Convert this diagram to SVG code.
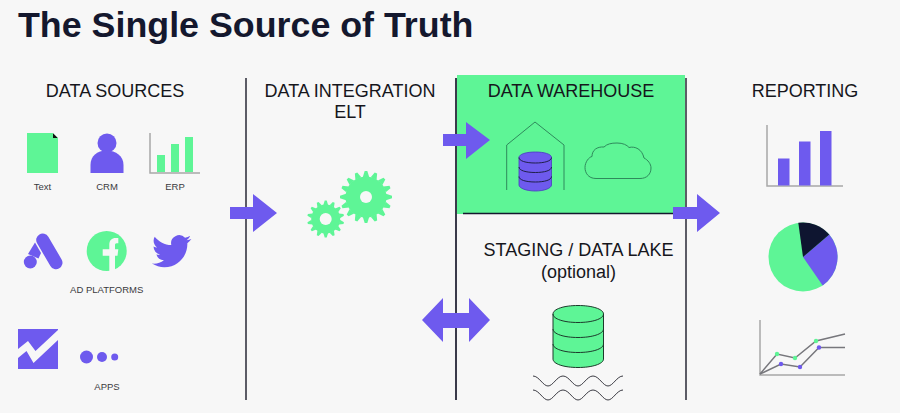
<svg xmlns="http://www.w3.org/2000/svg" xmlns:xlink="http://www.w3.org/1999/xlink" width="900" height="413" viewBox="0 0 900 413">
  <style>
    text { font-family: "Liberation Sans", Arial, sans-serif; fill: #16161c; }
    .title { font-size: 35.800px; font-weight: 700; fill: #14182e; }
    .head { font-size: 18px; text-anchor: middle; }
    .small { font-size: 9.500px; text-anchor: middle; fill: #3a3a40; }
    .green { fill: #5ef596; }
    .purple { fill: #6e5aee; }
    .axis { stroke: #a8a8a8; stroke-width: 1.500; fill: none; }
    .divider { stroke: #5c5c66; stroke-width: 2; fill: none; }
    .thin { fill: none; stroke: #2f8a5c; stroke-width: 1; }
    .band { fill: none; stroke: #20204a; stroke-width: 1; }
    .wave { fill: none; stroke: #3c3c44; stroke-width: 1; }
    .trend { fill: none; stroke: #77777c; stroke-width: 1.500; }
  </style>
  <defs>
    <polygon id="tooth-big" points="-3.200,-20 -1.300,-26 1.300,-26 3.200,-20" class="green"/>
    <polygon id="tooth-small" points="-2.400,-14 -1,-18.500 1,-18.500 2.400,-14" class="green"/>
  </defs>

  <rect width="900" height="413" fill="#f7f7f7"/>
  <text class="title" x="18" y="37">The Single Source of Truth</text>

  <g id="warehouse-panel">
    <rect x="457" y="75" width="228" height="139" class="green"/>
  </g>

  <g id="dividers">
    <path class="divider" d="M246 78V400"/>
    <path class="divider" d="M456 78V400" style="stroke:#3a3a4a"/>
    <path class="divider" d="M686 78V400"/>
    <path d="M463 213.500H686" stroke="#14182e" stroke-width="1.500" fill="none"/>
  </g>

  <g id="data-sources">
    <text class="head" x="115" y="97">DATA SOURCES</text>
    <g id="source-text">
      <rect x="27" y="133" width="31" height="40" class="green"/>
      <polygon points="53,133 58,138 53,138" fill="#111"/>
      <polygon points="53,133 58,133 58,138" fill="#f7f7f7"/>
      <text class="small" x="42.500" y="190">Text</text>
    </g>
    <g id="source-crm">
      <circle cx="107" cy="143" r="9.500" class="purple"/>
      <path class="purple" d="M90.500 173V165C90.500 156 97 150.500 106.500 150.500S123.500 156 123.500 165V173Z"/>
      <text class="small" x="107" y="190">CRM</text>
    </g>
    <g id="source-erp">
      <path class="axis" d="M150 133V173H200"/>
      <rect x="157" y="155" width="8" height="17" class="green"/>
      <rect x="171" y="144" width="8" height="28" class="green"/>
      <rect x="185" y="137" width="8" height="35" class="green"/>
      <text class="small" x="175" y="190">ERP</text>
    </g>
    <g id="source-google-ads">
      <path d="M42.700 240L56 262.700" stroke="#6e5aee" stroke-width="13" stroke-linecap="round" fill="none"/>
      <circle cx="30.300" cy="262" r="6.500" class="purple"/>
      <polygon class="purple" points="35,242.500 41,253 38.500,258.500 28,254"/>
    </g>
    <g id="source-facebook">
      <circle cx="106.700" cy="251" r="20" class="green"/>
      <path fill="#f7f7f7" d="M109.300 271V255.700H102.700V249.300H109.300V245C109.300 240 112 238 115.500 238H118.300V243.300H116.500C115.500 243.300 115 244 115 245V249.300H118.300L117.500 255.700H115V271Z"/>
    </g>
    <g id="source-twitter">
      <path class="purple" transform="translate(152 231.500) scale(1.640)" d="M23.953 4.570a10 10 0 01-2.825.775 4.958 4.958 0 002.163-2.723c-.951.555-2.005.959-3.127 1.184a4.920 4.920 0 00-8.384 4.482C7.690 8.095 4.067 6.130 1.640 3.162a4.822 4.822 0 00-.666 2.475c0 1.710.870 3.213 2.188 4.096a4.904 4.904 0 01-2.228-.616v.060a4.923 4.923 0 003.946 4.827 4.996 4.996 0 01-2.212.085 4.936 4.936 0 004.604 3.417 9.867 9.867 0 01-6.102 2.105c-.390 0-.779-.023-1.170-.067a13.995 13.995 0 007.557 2.209c9.053 0 13.998-7.496 13.998-13.985 0-.210 0-.420-.015-.630A9.935 9.935 0 0024 4.590z"/>
    </g>
    <text class="small" x="106.700" y="293">AD PLATFORMS</text>
    <g id="source-analytics">
      <rect x="18" y="329" width="40" height="40" class="purple"/>
      <polygon fill="#f7f7f7" points="18,349 28,341 35.500,351 58,330 58,340 33.500,363 26.500,351 18,358"/>
    </g>
    <g id="source-more-apps">
      <circle cx="86.500" cy="357" r="6.500" class="purple"/>
      <circle cx="102" cy="357" r="5" class="purple"/>
      <circle cx="114.700" cy="357" r="3.500" class="purple"/>
    </g>
    <text class="small" x="107" y="390">APPS</text>
  </g>

  <g id="data-integration">
    <text class="head" x="350" y="97">DATA INTEGRATION</text>
    <text class="head" x="350" y="118">ELT</text>
    <g id="gear-large" transform="translate(366 197)">
      <circle r="20.500" class="green"/>
      <use xlink:href="#tooth-big"/>
      <use xlink:href="#tooth-big" transform="rotate(22.500)"/>
      <use xlink:href="#tooth-big" transform="rotate(45)"/>
      <use xlink:href="#tooth-big" transform="rotate(67.500)"/>
      <use xlink:href="#tooth-big" transform="rotate(90)"/>
      <use xlink:href="#tooth-big" transform="rotate(112.500)"/>
      <use xlink:href="#tooth-big" transform="rotate(135)"/>
      <use xlink:href="#tooth-big" transform="rotate(157.500)"/>
      <use xlink:href="#tooth-big" transform="rotate(180)"/>
      <use xlink:href="#tooth-big" transform="rotate(202.500)"/>
      <use xlink:href="#tooth-big" transform="rotate(225)"/>
      <use xlink:href="#tooth-big" transform="rotate(247.500)"/>
      <use xlink:href="#tooth-big" transform="rotate(270)"/>
      <use xlink:href="#tooth-big" transform="rotate(292.500)"/>
      <use xlink:href="#tooth-big" transform="rotate(315)"/>
      <use xlink:href="#tooth-big" transform="rotate(337.500)"/>
      <circle r="6" fill="#f7f7f7"/>
    </g>
    <g id="gear-small" transform="translate(325.700 219)">
      <circle r="14.500" class="green"/>
      <use xlink:href="#tooth-small"/>
      <use xlink:href="#tooth-small" transform="rotate(25.700)"/>
      <use xlink:href="#tooth-small" transform="rotate(51.400)"/>
      <use xlink:href="#tooth-small" transform="rotate(77.100)"/>
      <use xlink:href="#tooth-small" transform="rotate(102.900)"/>
      <use xlink:href="#tooth-small" transform="rotate(128.600)"/>
      <use xlink:href="#tooth-small" transform="rotate(154.300)"/>
      <use xlink:href="#tooth-small" transform="rotate(180)"/>
      <use xlink:href="#tooth-small" transform="rotate(205.700)"/>
      <use xlink:href="#tooth-small" transform="rotate(231.400)"/>
      <use xlink:href="#tooth-small" transform="rotate(257.100)"/>
      <use xlink:href="#tooth-small" transform="rotate(282.900)"/>
      <use xlink:href="#tooth-small" transform="rotate(308.600)"/>
      <use xlink:href="#tooth-small" transform="rotate(334.300)"/>
      <circle r="6" fill="#f7f7f7"/>
    </g>
  </g>

  <g id="data-warehouse">
    <text class="head" x="571" y="97">DATA WAREHOUSE</text>
    <path class="thin" d="M506.700 190V145L535 122L564 145V190"/>
    <g id="warehouse-db">
      <path class="purple" stroke="#4a3ac0" stroke-width="0.800" d="M519 157.500V185C519 188 526 191 535.300 191S551.500 188 551.500 185V157.500C551.500 154 544 152 535.300 152S519 154 519 157.500Z"/>
      <path class="band" d="M519 157.500C519 161 526 163 535.300 163S551.500 161 551.500 157.500"/>
      <path class="band" d="M519 167C519 170.500 526 172.500 535.300 172.500S551.500 170.500 551.500 167"/>
      <path class="band" d="M519 176.500C519 180 526 182 535.300 182S551.500 180 551.500 176.500"/>
    </g>
    <path class="thin" d="M596 178.500C588 178.500 585 172.500 585 167.500C585 162 589 157 592 156.500C592 150 597 146.500 604 147C607 144 611 143 617 143C623 143 627 145 629 147.500C635 146 642 149 644 158C648 160 651 164 651 168C651 174 647 178.500 640 178.500Z"/>
  </g>

  <g id="staging-lake">
    <text class="head" x="578.500" y="256">STAGING / DATA LAKE</text>
    <text class="head" x="578.500" y="278">(optional)</text>
    <path class="green" stroke="#1d3a2b" stroke-width="1" d="M553 314V359C553 364 564 367.500 578 367.500S603.500 364 603.500 359V314C603.500 309 592 305.500 578 305.500S553 309 553 314Z"/>
    <path class="band" style="stroke:#1d3a2b" d="M553 314C553 319 564 322.500 578 322.500S603.500 319 603.500 314"/>
    <path class="band" style="stroke:#1d3a2b" d="M553 329C553 334 564 337.500 578 337.500S603.500 334 603.500 329"/>
    <path class="band" style="stroke:#1d3a2b" d="M553 344C553 349 564 352.500 578 352.500S603.500 349 603.500 344"/>
    <path class="wave" d="M533 376C539 376 543 386 548 386S557 376 563 376S573 386 578 386S587 376 593 376S603 386 608 386S617 376 623 376"/>
    <path class="wave" d="M533 390C539 390 543 400 548 400S557 390 563 390S573 400 578 400S587 390 593 390S603 400 608 400S617 390 623 390"/>
  </g>

  <g id="reporting">
    <text class="head" x="805" y="97">REPORTING</text>
    <g id="report-bars">
      <path class="axis" d="M767 125V186H843"/>
      <rect x="778" y="158.500" width="11.500" height="27" class="purple"/>
      <rect x="799" y="141.500" width="11.500" height="44" class="purple"/>
      <rect x="820" y="131" width="11.500" height="54.500" class="purple"/>
    </g>
    <g id="report-pie">
      <circle cx="803" cy="257" r="34.500" class="green"/>
      <path class="purple" d="M803 257L829.300 234.600A34.500 34.500 0 0 1 822.700 285.400Z"/>
      <path fill="#0e1530" d="M803 257L798.300 222.800A34.500 34.500 0 0 1 829.300 234.600Z"/>
    </g>
    <g id="report-lines">
      <path class="axis" d="M760 320V375H845"/>
      <path class="trend" d="M760 374L777 354L795 358L816 341L845 334"/>
      <path class="trend" d="M760 374L781 364L800 367L819 347.500H845"/>
      <circle cx="777" cy="354" r="2.200" class="green"/>
      <circle cx="795" cy="358" r="2.200" class="green"/>
      <circle cx="816" cy="341" r="2.200" class="green"/>
      <circle cx="781" cy="364" r="2.200" class="purple"/>
      <circle cx="800" cy="367" r="2.200" class="purple"/>
      <circle cx="819" cy="347.500" r="2.200" class="purple"/>
    </g>
  </g>

  <g id="connectors">
    <polygon class="purple" points="230,207 253,207 253,194 277,213 253,232 253,219 230,219"/>
    <polygon class="purple" points="443,134 466,134 466,122 490,140 466,159 466,146 443,146"/>
    <polygon class="purple" points="673,207 697,207 697,194 720,213 697,232 697,219 673,219"/>
    <polygon class="purple" points="422,320 443,298 443,313 469,313 469,298 490,320 469,342 469,328 443,328 443,342"/>
  </g>
</svg>
